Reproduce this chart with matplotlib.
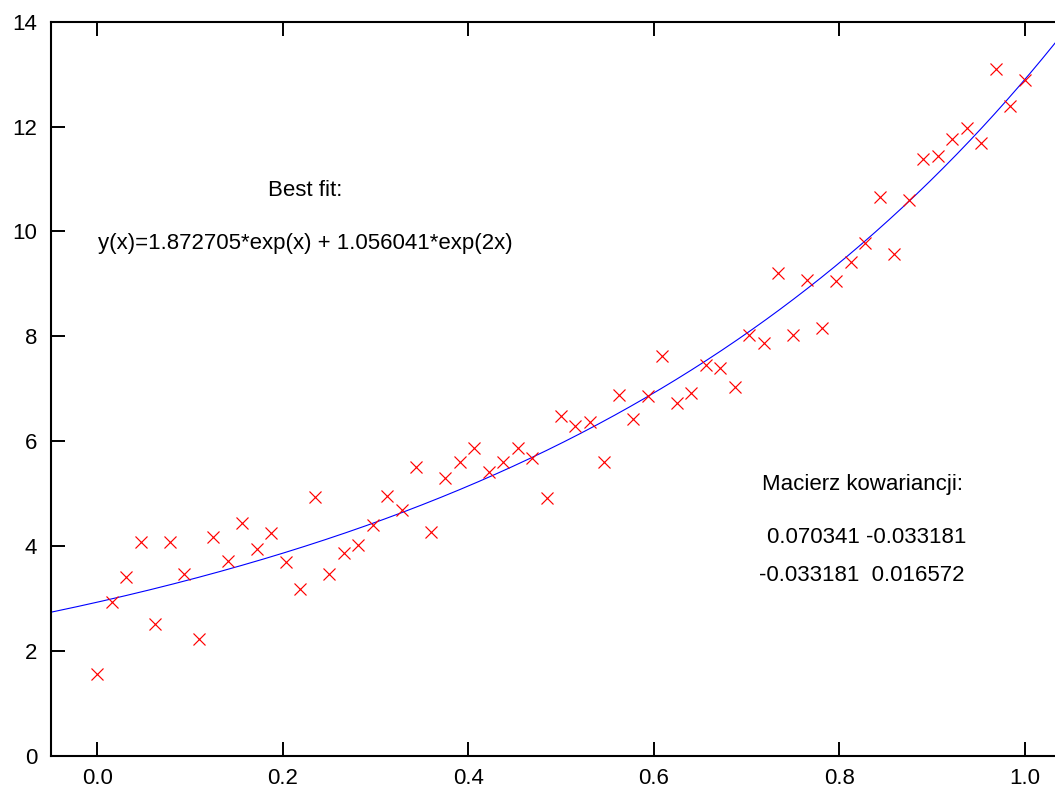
import numpy as np
import matplotlib
matplotlib.use("Agg")
import matplotlib.pyplot as plt

plt.rcParams['font.family'] = ['Liberation Sans', 'DejaVu Sans']

# Measured data (65 evenly spaced samples on [0, 1])
x_start, x_end, n_points = 0.0, 1.0, 65
y_data = [1.55, 2.94, 3.40, 4.08, 2.51, 4.07, 3.47, 2.23, 4.17, 3.71,
          4.43, 3.95, 4.25, 3.70, 3.18, 4.93, 3.46, 3.87, 4.01, 4.40,
          4.96, 4.69, 5.50, 4.26, 5.29, 5.60, 5.87, 5.41, 5.60, 5.87,
          5.67, 4.92, 6.47, 6.28, 6.37, 5.60, 6.88, 6.42, 6.86, 7.63,
          6.73, 6.92, 7.46, 7.39, 7.04, 8.03, 7.87, 9.21, 8.02, 9.08,
          8.16, 9.06, 9.42, 9.78, 10.66, 9.56, 10.59, 11.39, 11.44, 11.77,
          11.98, 11.69, 13.09, 12.39, 12.88]

# Fit coefficients: y(x) = a*exp(x) + b*exp(2x)
fit_a = 1.872705
fit_b = 1.056041

x_ticks = [0.0, 0.2, 0.4, 0.6, 0.8, 1.0]
x_ticklabels = ['0.0', '0.2', '0.4', '0.6', '0.8', '1.0']
y_ticks = [0, 2, 4, 6, 8, 10, 12, 14]

label_fit_title = 'Best fit:'
label_fit_eq = 'y(x)=1.872705*exp(x) + 1.056041*exp(2x)'
label_cov_title = 'Macierz kowariancji:'
label_cov_row1 = '0.070341 -0.033181'
label_cov_row2 = '-0.033181  0.016572'

x_data = np.linspace(x_start, x_end, n_points)

fig = plt.figure(figsize=(10.55, 7.90), dpi=100)
ax_left = 51 / 1055
ax_bottom = (790 - 755.7) / 790
ax_top = (790 - 21.7) / 790
ax_right = 1071 / 1055
ax = fig.add_axes([ax_left, ax_bottom, ax_right - ax_left, ax_top - ax_bottom])

xlo, xhi = -0.05, 1.05
xc = np.linspace(xlo, xhi, 600)
yc = fit_a * np.exp(xc) + fit_b * np.exp(2 * xc)
ax.plot(xc, yc, color='#0000ff', lw=0.8, zorder=2)
ax.plot(x_data, y_data, linestyle='none', marker='x', color='#ff0000',
        markersize=8.5, markeredgewidth=0.85, zorder=3)

ax.set_xlim(xlo, xhi)
ax.set_ylim(0, 14)
ax.set_xticks(x_ticks)
ax.set_xticklabels(x_ticklabels)
ax.set_yticks(y_ticks)
ax.tick_params(direction='in', length=10, width=1.4, labelsize=16,
               top=True, right=True, pad=10)
ax.tick_params(axis='x', pad=9)
for s in ax.spines.values():
    s.set_linewidth(1.5)
    s.set_color('black')

fs = 16
ax.text(0.2243, 10.78, label_fit_title, ha='center', va='center', fontsize=fs)
ax.text(0.2243, 9.76, label_fit_eq, ha='center', va='center', fontsize=fs)
ax.text(0.8248, 5.17, label_cov_title, ha='center', va='center', fontsize=fs)
ax.text(0.8300, 4.17, label_cov_row1, ha='center', va='center', fontsize=fs)
ax.text(0.8248, 3.43, label_cov_row2, ha='center', va='center', fontsize=fs)

fig.savefig('out.png', dpi=100)
